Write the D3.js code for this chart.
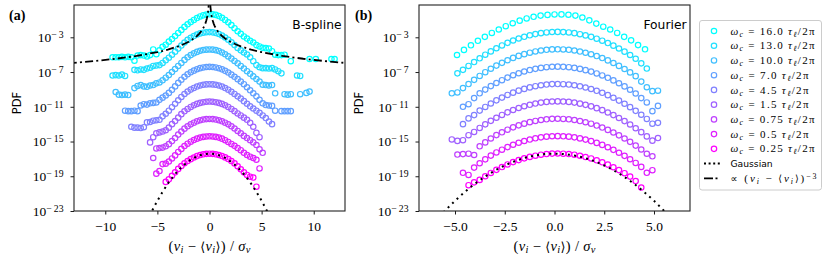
<!DOCTYPE html>
<html>
<head>
<meta charset="utf-8">
<script src="https://cdn.jsdelivr.net/npm/d3@7/dist/d3.min.js"></script>
<style>
  body { margin: 0; background: #fff; }
  svg text { font-family: "Liberation Serif", "DejaVu Serif", serif; fill: #000; }
  svg text.sans { font-family: "DejaVu Sans", sans-serif; }
</style>
</head>
<body>
<svg id="chart" width="822" height="257"></svg>
<script>
//Datos: log10(PDF) de cada curva, sin desplazar. Cada curva se desplaza luego 2 décadas
const omegaLabels = ['16.0', '13.0', '10.0', '7.0', '4.5', '1.5', '0.75', '0.5', '0.25'];
const offsetsDec = [0, -2, -4, -6, -8, -10, -12, -14, -16];

//(a) B-spline: paso 0.3 en x, null = sin punto
const splineStep = 0.3;
const splineStart = [-9.3, -9.3, -9.0, -8.1, -7.5, -5.7, -5.4, -5.1, -4.2];
const spline16 = [-5.3,-5.3,-5.3,-5.25,-5.3,-5.25,-5.3,-5.7,-5.1,-5.05,-5.1,-5.2,-5.05,-4.4,-4.95,-4.5,-4.1,-3.85,-3.5,-3.2,-2.85,-2.5,-2.15,-1.8,-1.5,-1.25,-1.0,-0.78,-0.6,-0.47,-0.38,-0.35,-0.36,-0.42,-0.55,-0.75,-1.0,-1.28,-1.6,-1.95,-2.3,-2.6,-2.9,-3.15,-3.4,-3.6,-3.9,-4.05,-4.2,-4.25,-4.3,-4.6,-5.0,-5.05,-5.05,-5.0,null,-5.75,null,null,null,null,null,-5.5,null,-5.5,null,null,null,null,-5.5,-5.5];
const spline13 = [-5.4,-5.35,-5.4,-5.3,-5.45,null,null,-4.75,-4.8,-4.7,-4.75,-4.6,-4.5,-4.3,-4.25,-4.2,-3.95,-3.65,-3.35,-3.0,-2.65,-2.3,-1.95,-1.6,-1.3,-1.05,-0.85,-0.68,-0.55,-0.47,-0.42,-0.40,-0.43,-0.5,-0.62,-0.8,-1.02,-1.28,-1.58,-1.9,-2.22,-2.5,-2.75,-2.98,-3.3,-3.75,-4.2,-4.45,-4.55,-4.55,-4.6,-4.55,-4.7,-4.9,-5.15,null,null,null,null,-5.4,-5.45];
const spline10 = [-5.3,-5.6,-5.65,-5.6,-5.65,null,-4.85,-4.6,-4.5,-4.65,-4.7,-4.55,-4.5,-4.3,-4.2,-3.95,-3.65,-3.35,-3.0,-2.65,-2.3,-1.95,-1.6,-1.3,-1.05,-0.85,-0.68,-0.55,-0.47,-0.42,-0.40,-0.42,-0.48,-0.58,-0.75,-0.95,-1.2,-1.45,-1.72,-2.0,-2.3,-2.6,-2.9,-3.2,-3.5,-3.8,-4.1,-4.45,-4.5,-4.55,-4.5,-5.45,null,null,-5.55,-5.6,-5.55,null,null,-5.55,null,-5.4,-5.25];
const spline7 = [-5.45,-5.5,-5.5,-5.45,-5.5,-4.85,-4.7,-4.75,-4.6,-4.55,-4.5,-4.2,-3.95,-3.7,-3.4,-3.05,-2.65,-2.25,-1.88,-1.54,-1.26,-1.03,-0.84,-0.68,-0.55,-0.47,-0.42,-0.40,-0.42,-0.47,-0.56,-0.69,-0.86,-1.06,-1.3,-1.55,-1.82,-2.1,-2.4,-2.75,-3.1,-3.45,-3.8,-4.2,-4.6,-4.8,-4.85,-4.9,-5.45,null,-5.5,-5.5,-5.5,-5.5];
const spline45 = [-5.3,-5.4,-5.4,-5.45,-5.35,-4.8,-4.75,-4.6,-4.55,-4.5,-4.1,-3.8,-3.45,-3.05,-2.65,-2.25,-1.87,-1.53,-1.25,-1.02,-0.83,-0.67,-0.55,-0.47,-0.42,-0.40,-0.42,-0.47,-0.55,-0.67,-0.84,-1.03,-1.27,-1.52,-1.8,-2.05,-2.35,-2.65,-2.95,-3.2,-3.45,-3.7,-4.0,-4.3,-4.7,-5.0];
const spline15 = [-5.1,-4.5,-4.05,-3.95,-3.85,-3.7,-3.4,-3.0,-2.65,-2.25,-1.85,-1.52,-1.25,-1.02,-0.83,-0.67,-0.55,-0.47,-0.42,-0.40,-0.42,-0.47,-0.55,-0.67,-0.83,-1.02,-1.25,-1.5,-1.77,-2.0,-2.25,-2.5,-2.85,-3.3,-4.0,-4.5];
const spline075 = [-4.9,-3.8,-3.75,-3.7,-3.55,-3.3,-2.95,-2.6,-2.2,-1.85,-1.52,-1.25,-1.02,-0.83,-0.67,-0.55,-0.47,-0.42,-0.40,-0.42,-0.47,-0.55,-0.67,-0.83,-1.02,-1.25,-1.5,-1.78,-2.05,-2.35,-2.6,-2.85,-3.1,-3.4,-3.9,-4.3];
const spline05 = [-4.7,-4.4,-3.6,-3.55,-3.3,-2.95,-2.6,-2.2,-1.85,-1.52,-1.25,-1.02,-0.83,-0.67,-0.55,-0.47,-0.42,-0.40,-0.42,-0.47,-0.55,-0.67,-0.85,-1.05,-1.28,-1.5,-1.75,-2.0,-2.3,-2.55,-2.75,-2.9,-3.1,-4.1];
const spline025 = [-3.65,-3.35,-2.95,-2.55,-2.15,-1.82,-1.5,-1.25,-1.03,-0.84,-0.68,-0.56,-0.47,-0.42,-0.40,-0.42,-0.47,-0.55,-0.67,-0.83,-1.02,-1.25,-1.52,-1.85,-2.2,-2.55,-2.85,-3.05,-3.15,-4.2];

//(b) Fourier: la primera curva tiene paso 0.35, el resto 0.28
const fourierStep = [0.35, 0.28, 0.28, 0.28, 0.28, 0.28, 0.28, 0.28, 0.28];
const fourierStart = [-4.9, -4.88, -5.16, -4.6, -4.6, -5.16, -4.88, -4.6, -4.32];
const fourier16 = [-5.04,-4.45,-3.92,-3.4,-2.95,-2.5,-2.1,-1.72,-1.38,-1.08,-0.83,-0.64,-0.5,-0.42,-0.37,-0.36,-0.4,-0.5,-0.72,-1.05,-1.42,-1.78,-2.1,-2.5,-2.95,-3.35,-3.9,-4.38];
const fourier13 = [-5.15,-4.75,-4.3,-3.85,-3.42,-3.0,-2.62,-2.26,-1.94,-1.64,-1.37,-1.14,-0.94,-0.77,-0.63,-0.52,-0.44,-0.39,-0.38,-0.40,-0.44,-0.52,-0.64,-0.78,-0.95,-1.16,-1.39,-1.66,-1.96,-2.29,-2.65,-3.04,-3.47,-4.0,-4.6];
const fourier10 = [-5.45,-5.35,-4.85,-4.38,-3.9,-3.45,-3.02,-2.62,-2.26,-1.94,-1.64,-1.37,-1.14,-0.94,-0.77,-0.63,-0.52,-0.44,-0.39,-0.38,-0.40,-0.44,-0.52,-0.64,-0.78,-0.95,-1.16,-1.39,-1.66,-1.96,-2.29,-2.65,-3.04,-3.47,-4.1,-4.75,-5.2,-5.15];
const fourier7 = [-5.0,-4.7,-4.0,-3.45,-3.02,-2.62,-2.26,-1.94,-1.64,-1.37,-1.14,-0.94,-0.77,-0.63,-0.52,-0.44,-0.39,-0.38,-0.40,-0.44,-0.52,-0.64,-0.78,-0.95,-1.16,-1.39,-1.66,-1.96,-2.29,-2.65,-3.04,-3.47,-4.0,-4.5,-5.5,-4.9];
const fourier45 = [-5.0,-4.34,-3.96,-3.44,-3.02,-2.62,-2.26,-1.94,-1.64,-1.37,-1.14,-0.94,-0.77,-0.63,-0.52,-0.44,-0.39,-0.38,-0.40,-0.44,-0.52,-0.64,-0.78,-0.95,-1.16,-1.39,-1.66,-1.96,-2.29,-2.65,-3.04,-3.47,-3.92,-4.4,-4.95,-4.85];
const fourier15 = [-4.76,-4.93,-4.85,-4.27,-3.9,-3.44,-3.02,-2.62,-2.26,-1.94,-1.64,-1.37,-1.14,-0.94,-0.77,-0.63,-0.52,-0.44,-0.39,-0.38,-0.40,-0.44,-0.52,-0.64,-0.78,-0.95,-1.16,-1.39,-1.66,-1.96,-2.29,-2.65,-3.04,-3.47,-3.92,-4.41,-4.9,-4.6];
const fourier075 = [-4.5,-4.45,-4.4,-4.55,-3.55,-3.1,-2.65,-2.26,-1.94,-1.64,-1.37,-1.14,-0.94,-0.77,-0.63,-0.52,-0.44,-0.39,-0.38,-0.40,-0.44,-0.52,-0.64,-0.78,-0.95,-1.16,-1.39,-1.66,-1.96,-2.29,-2.65,-3.04,-3.47,-3.92,-4.41,-4.7];
const fourier05 = [-4.6,-4.85,-4.0,-3.5,-3.05,-2.62,-2.26,-1.94,-1.64,-1.37,-1.14,-0.94,-0.77,-0.63,-0.52,-0.44,-0.39,-0.38,-0.40,-0.44,-0.52,-0.64,-0.78,-0.95,-1.16,-1.39,-1.66,-1.96,-2.29,-2.65,-3.04,-3.47,-3.92,-4.6,-4.3];
const fourier025 = [-4.03,-3.7,-3.42,-3.0,-2.62,-2.26,-1.94,-1.64,-1.37,-1.14,-0.94,-0.77,-0.63,-0.52,-0.44,-0.39,-0.38,-0.40,-0.44,-0.52,-0.64,-0.78,-0.95,-1.16,-1.39,-1.66,-1.96,-2.29,-2.65,-3.04,-3.55,-4.3];

//Curva gaussiana de referencia (log10), desplazada como la última serie
const gaussX = [-6,-5.5,-5,-4.5,-4,-3.5,-3,-2.5,-2,-1.5,-1,-0.5,0,0.5,1,1.5,2,2.5,3,3.5,4,4.5,5,5.5,6];
const gaussLog = [-8.22,-6.97,-5.83,-4.80,-3.87,-3.06,-2.35,-1.76,-1.27,-0.89,-0.62,-0.45,-0.40,-0.45,-0.62,-0.89,-1.27,-1.76,-2.35,-3.06,-3.87,-4.80,-5.83,-6.97,-8.22];
const gaussOffset = -16;

//Ley de potencias |x|^-3 (log10), rama positiva; la negativa es simétrica
const powX = [0.07,0.1,0.15,0.2,0.25,0.3,0.4,0.5,0.6,0.8,1,1.2,1.5,2,2.5,3,4,5,7,9,11,13.5];
const powLog = [0.85,0.39,-0.14,-0.51,-0.80,-1.04,-1.42,-1.71,-1.94,-2.32,-2.61,-2.85,-3.14,-3.51,-3.80,-4.04,-4.42,-4.71,-5.15,-5.47,-5.73,-6.0];

//Ejes
const yTicks = [-3, -7, -11, -15, -19, -23];
const xTicksA = [-10, -5, 0, 5, 10];
const xTicksB = [-5, -2.5, 0, 2.5, 5];

const splineSeries = [spline16, spline13, spline10, spline7, spline45, spline15, spline075, spline05, spline025];
const fourierSeries = [fourier16, fourier13, fourier10, fourier7, fourier45, fourier15, fourier075, fourier05, fourier025];

//Colormap "cool" de matplotlib
function coolColor(t) {
    return d3.rgb(Math.round(255 * t), Math.round(255 * (1 - t)), 255).formatHex();
}
let colors = omegaLabels.map(function(d, i) { return coolColor(i / (omegaLabels.length - 1)); });

function toPoints(values, start, step, offset) {
    let pts = [];
    values.forEach(function(v, i) {
        if (v === null) return;
        pts.push({ x: start + i * step, y: Math.pow(10, v + offset) });
    });
    return pts;
}

//Texto con sub/superíndices
function rich(sel, parts) {
    parts.forEach(function(p) {
        let t = sel.append('tspan').text(p.t);
        if (p.i) t.attr('font-style', 'italic');
        if (p.br) t.attr('font-family', '"DejaVu Sans", sans-serif').attr('font-size', '88%');
        if (p.sub) t.attr('baseline-shift', '-22%').attr('font-size', '72%');
        if (p.sup) t.attr('baseline-shift', '38%').attr('font-size', '72%');
    });
}

//Parte de la etiqueta (v_i - <v_i>)
const vPart = [{ t: '(' }, { t: 'v', i: 1 }, { t: 'i', i: 1, sub: 1 }, { t: ' \u2212 ' }, { t: '\u27E8', br: 1 }, { t: 'v', i: 1 }, { t: 'i', i: 1, sub: 1 },
    { t: '\u27E9', br: 1 }, { t: ')' }];

const svg = d3.select('#chart');
const top0 = 5, height = 206, width = 271;

let y = d3.scaleLog().domain([1e-23, Math.pow(10, 0.72)]).range([top0 + height, top0]);

function drawPanel(opts) {
    let left = opts.left;
    let x = d3.scaleLinear().domain(opts.xDomain).range([left, left + width]);

    let clipId = 'clip-' + opts.name;
    svg.append('clipPath').attr('id', clipId)
        .append('rect').attr('x', left).attr('y', top0).attr('width', width).attr('height', height);

    let plot = svg.append('g').attr('clip-path', 'url(#' + clipId + ')');

    //Puntos
    opts.series.forEach(function(vals, k) {
        let pts = toPoints(vals, opts.start[k], opts.step[k], offsetsDec[k]);
        plot.append('g')
            .selectAll('circle')
            .data(pts)
            .enter()
            .append('circle')
                .attr('cx', function(d) { return x(d.x); })
                .attr('cy', function(d) { return y(d.y); })
                .attr('r', 2.7)
                .attr('fill', 'none')
                .attr('stroke', colors[k])
                .attr('stroke-width', 1.2);
    });

    //Gaussiana
    let line = d3.line().x(function(d) { return x(d.x); }).y(function(d) { return y(d.y); }).curve(d3.curveMonotoneX);
    let gpts = gaussX.map(function(v, i) { return { x: v, y: Math.pow(10, gaussLog[i] + gaussOffset) }; });
    plot.append('path')
        .datum(gpts)
        .attr('d', line)
        .attr('fill', 'none')
        .attr('stroke', '#000')
        .attr('stroke-width', 2)
        .attr('stroke-dasharray', '2,4.2');

    //Ley de potencias (solo en el panel a)
    if (opts.power) {
        [-1, 1].forEach(function(sg) {
            let ppts = powX.map(function(v, i) { return { x: sg * v, y: Math.pow(10, powLog[i]) }; });
            if (sg < 0) ppts.reverse();
            plot.append('path')
                .datum(ppts)
                .attr('d', d3.line().x(function(d) { return x(d.x); }).y(function(d) { return y(d.y); }))
                .attr('fill', 'none')
                .attr('stroke', '#000')
                .attr('stroke-width', 1.8)
                .attr('stroke-dasharray', '8,3.2,2,3.2');
        });
    }

    //Eje X
    let gx = svg.append('g')
        .attr('transform', 'translate(0,' + (top0 + height) + ')')
        .call(d3.axisBottom(x).tickValues(opts.xTicks).tickSize(3.5).tickPadding(7)
            .tickFormat(function(d) { return opts.fmt(d).replace('-', '\u2212\u2009\u200A'); }));
    gx.select('.domain').remove();
    gx.selectAll('text').attr('font-size', '13.5px').attr('font-family', '"Liberation Serif", serif');
    gx.selectAll('line').attr('stroke-width', 0.9);

    //Eje Y
    let gy = svg.append('g')
        .attr('transform', 'translate(' + left + ',0)')
        .call(d3.axisLeft(y).tickValues(yTicks.map(function(e) { return Math.pow(10, e); })).tickSize(3.5).tickPadding(7).tickFormat(''));
    gy.select('.domain').remove();
    gy.selectAll('line').attr('stroke-width', 0.9);
    gy.selectAll('.tick text').each(function(d) {
        let t = d3.select(this).attr('font-size', '13.5px').attr('font-family', '"Liberation Serif", serif');
        t.text('10');
        t.append('tspan').attr('baseline-shift', '42%').attr('font-size', '72%')
            .text('\u2212\u2009' + Math.round(-Math.log10(d)));
    });

    //Marco
    svg.append('rect')
        .attr('x', left).attr('y', top0).attr('width', width).attr('height', height)
        .attr('fill', 'none').attr('stroke', '#222').attr('stroke-width', 1.1);

    //Etiquetas
    let xl = svg.append('text')
        .attr('x', left + width / 2 - 41).attr('y', 251)
        .attr('font-size', '14.5px')
        .attr('textLength', 82).attr('lengthAdjust', 'spacing');
    rich(xl, vPart.concat([{ t: ' / ' }, { t: '\u03C3', i: 1 }, { t: 'v', i: 1, sub: 1 }]));

    svg.append('text').attr('class', 'sans')
        .attr('transform', 'translate(' + opts.pdfX + ',103) rotate(-90)')
        .attr('text-anchor', 'middle').attr('font-size', '11.5px')
        .text('PDF');

    svg.append('text')
        .attr('x', opts.tagX).attr('y', 20)
        .attr('font-size', '14px').attr('font-weight', 'bold')
        .text(opts.tag);

    svg.append('text').attr('class', 'sans')
        .attr('x', left + width - 3.5).attr('y', 28.5)
        .attr('text-anchor', 'end').attr('font-size', '12.3px')
        .text(opts.title);
}

drawPanel({
    name: 'a', left: 74, xDomain: [-13, 13], xTicks: xTicksA, fmt: d3.format('d'),
    series: splineSeries, start: splineStart, step: splineSeries.map(function() { return splineStep; }),
    power: true, pdfX: 21, tagX: 9, tag: '(a)', title: 'B-spline'
});

drawPanel({
    name: 'b', left: 419, xDomain: [-6.81, 6.81], xTicks: xTicksB, fmt: d3.format('.1f'),
    series: fourierSeries, start: fourierStart, step: fourierStep,
    power: false, pdfX: 362.5, tagX: 355, tag: '(b)', title: 'Fourier'
});

//Leyenda
let legend = svg.append('g');
legend.append('rect')
    .attr('x', 699.5).attr('y', 20.5).attr('width', 122).attr('height', 169.5)
    .attr('rx', 2.5).attr('fill', '#fff').attr('stroke', '#ccc').attr('stroke-width', 1);

const rowY0 = 31, rowStep = 14.73;
omegaLabels.forEach(function(lab, i) {
    let yy = rowY0 + i * rowStep;
    legend.append('circle')
        .attr('cx', 714).attr('cy', yy).attr('r', 2.7)
        .attr('fill', 'none').attr('stroke', colors[i]).attr('stroke-width', 1.2);
    let t = legend.append('text').attr('x', 730.5).attr('y', yy + 3.6).attr('font-size', '11px')
        .attr('textLength', lab.length > 3 ? 84 : 78).attr('lengthAdjust', 'spacing');
    rich(t, [{ t: '\u03C9', i: 1 }, { t: 'c', i: 1, sub: 1 }, { t: ' = ' + lab + ' ' }, { t: '\u03C4', i: 1 }, { t: '\u2113', i: 1, sub: 1 }, { t: '/2\u03C0' }]);
});

let yG = rowY0 + 9 * rowStep, yP = rowY0 + 10 * rowStep;
legend.append('line').attr('x1', 704).attr('x2', 721).attr('y1', yG).attr('y2', yG)
    .attr('stroke', '#000').attr('stroke-width', 2).attr('stroke-dasharray', '2,2.6');
legend.append('text').attr('class', 'sans').attr('x', 730.5).attr('y', yG + 3.3).attr('font-size', '9.2px').text('Gaussian');

legend.append('line').attr('x1', 704).attr('x2', 721).attr('y1', yP).attr('y2', yP)
    .attr('stroke', '#000').attr('stroke-width', 1.8).attr('stroke-dasharray', '9,2.5,2,4');
let tp = legend.append('text').attr('x', 730.5).attr('y', yP + 3.6).attr('font-size', '11px')
    .attr('textLength', 86).attr('lengthAdjust', 'spacing');
rich(tp, [{ t: '\u221D ', br: 1 }].concat(vPart).concat([{ t: '\u22123', sup: 1 }]));
</script>
</body>
</html>
